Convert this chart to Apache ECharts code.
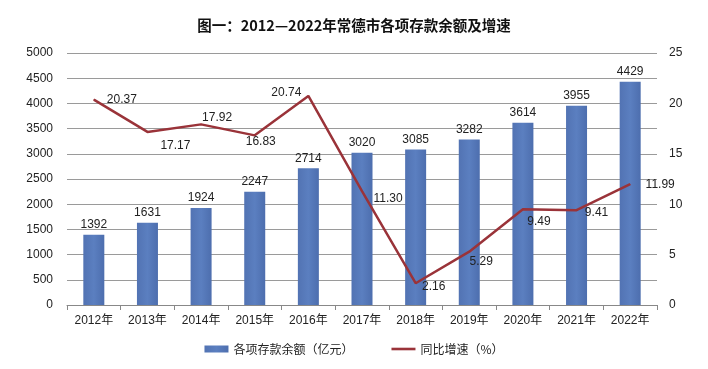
<!DOCTYPE html>
<html><head><meta charset="utf-8">
<script src="https://cdn.jsdelivr.net/npm/echarts@6/dist/echarts.min.js"></script>
<style>html,body{margin:0;padding:0;background:#fff}#c{width:708px;height:369px}</style>
</head><body><div id="c"></div>
<script>
const categories = ['2012年','2013年','2014年','2015年','2016年','2017年','2018年','2019年','2020年','2021年','2022年'];
const deposits = [1392,1631,1924,2247,2714,3020,3085,3282,3614,3955,4429];
const growth = [20.37,17.17,17.92,16.83,20.74,11.30,2.16,5.29,9.49,9.41,11.99];
const growthLabels = ['20.37','17.17','17.92','16.83','20.74','11.30','2.16','5.29','9.49','9.41','11.99'];
const leftTicks = {min:0,max:5000,interval:500};
const rightTicks = {min:0,max:25,interval:5};

// label offsets for the line labels (style only)
const lineLabelOffsets = [[28,0],[28,14],[16,-7],[6,6],[-22,-3],[26,8],[18,3],[12,10],[16,12],[20,3],[30,1]];

const font = "'Liberation Sans','Noto Sans CJK SC',sans-serif";
const chart = echarts.init(document.getElementById('c'));
chart.setOption({
  animation:false,
  title:{text:'图一：2012—2022年常德市各项存款余额及增速',left:'center',top:13,
    textStyle:{fontSize:14.5,fontWeight:'bold',color:'#111',fontFamily:"'Noto Sans CJK SC',sans-serif"}},
  grid:{left:67,right:51,top:53,bottom:64},
  legend:{bottom:9,left:'center',itemGap:38,itemWidth:24,itemHeight:7,
    textStyle:{fontSize:12,color:'#222',fontFamily:"'Noto Sans CJK SC',sans-serif"},
    data:[{name:'各项存款余额（亿元）',icon:'rect'},
          {name:'同比增速（%）',icon:'path://M0,0 L24,0 L24,2.6 L0,2.6 Z',itemStyle:{color:'#9a3339'}}]},
  xAxis:{type:'category',data:categories,
    axisLine:{lineStyle:{color:'#888'}},axisTick:{show:true,length:5,lineStyle:{color:'#888'}},
    axisLabel:{color:'#222',fontSize:12,margin:10,fontFamily:font}},
  yAxis:[
    {type:'value',min:leftTicks.min,max:leftTicks.max,interval:leftTicks.interval,
     axisLine:{show:false},axisTick:{show:false},
     axisLabel:{color:'#222',fontSize:12,margin:14,fontFamily:font,formatter:v=>String(v)},
     splitLine:{lineStyle:{color:'#9a9a9a',width:1}}},
    {type:'value',min:rightTicks.min,max:rightTicks.max,interval:rightTicks.interval,
     axisLine:{show:false},axisTick:{show:false},
     axisLabel:{color:'#222',fontSize:12,margin:12,fontFamily:font,formatter:v=>String(v)},
     splitLine:{show:false}}
  ],
  series:[
    {name:'各项存款余额（亿元）',type:'bar',data:deposits,barWidth:21,yAxisIndex:0,
     itemStyle:{color:new echarts.graphic.LinearGradient(0,0,1,0,[
       {offset:0,color:'#5273b3'},{offset:0.5,color:'#5b7fc0'},{offset:1,color:'#4d6eae'}])},
     label:{show:true,position:'top',distance:4,color:'#222',fontSize:12,fontFamily:font}},
    {name:'同比增速（%）',type:'line',data:growth.map((v,i)=>({value:v,
       label:{offset:lineLabelOffsets[i]}})),yAxisIndex:1,
     symbol:'circle',symbolSize:1,showSymbol:true,
     lineStyle:{color:'#9a3339',width:2.5},itemStyle:{color:'#9a3339'},
     label:{show:true,position:'inside',color:'#222',fontSize:12,fontFamily:font,
       formatter:p=>growthLabels[p.dataIndex]}}
  ]
});
</script></body></html>
